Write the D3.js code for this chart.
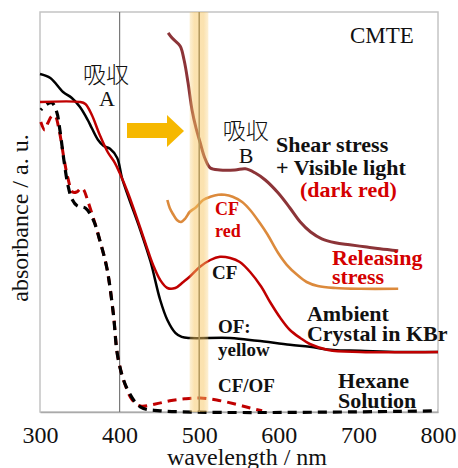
<!DOCTYPE html>
<html>
<head>
<meta charset="utf-8">
<script src="https://cdn.jsdelivr.net/npm/d3@7"></script>
<style>
  body { margin: 0; background: #fff; }
  svg { display: block; }
  svg text { font-family: 'Liberation Serif', serif; }
  svg text.cjk { font-family: 'Noto Sans CJK JP', sans-serif; }
</style>
</head>
<body>
<svg id="chart"></svg>
<script>
// spectra (wavelength in nm, absorbance in a.u. 0..1)
const xTicks = [300, 400, 500, 600, 700, 800];

const ambientNm  = [300, 313, 329, 340, 350, 360, 365, 373, 380, 388, 397, 403, 411, 426, 439, 451, 460, 470, 478, 488, 539, 573, 614, 639, 668, 702, 752, 800];
const ambientAbs = [0.845, 0.835, 0.80, 0.785, 0.763, 0.73, 0.71, 0.68, 0.665, 0.658, 0.635, 0.585, 0.538, 0.455, 0.375, 0.28, 0.23, 0.198, 0.188, 0.185, 0.185, 0.178, 0.168, 0.163, 0.155, 0.153, 0.15, 0.15];

const releaseNm  = [300, 350, 357, 365, 375, 385, 394, 400, 411, 426, 434, 442, 451, 460, 470, 480, 488, 501, 514, 526, 539, 551, 564, 578, 589, 602, 614, 627, 639, 662, 702, 800];
const releaseAbs = [0.775, 0.775, 0.77, 0.743, 0.693, 0.65, 0.623, 0.598, 0.545, 0.46, 0.413, 0.368, 0.33, 0.31, 0.31, 0.325, 0.338, 0.363, 0.38, 0.388, 0.385, 0.375, 0.35, 0.313, 0.275, 0.235, 0.205, 0.185, 0.17, 0.155, 0.15, 0.15];

const shearNm  = [461, 466, 476, 481, 486, 491, 496, 501, 507, 514, 526, 545, 558, 570, 583, 599, 614, 627, 640, 654, 671, 689, 708, 727, 750];
const shearAbs = [0.948, 0.935, 0.915, 0.88, 0.823, 0.755, 0.71, 0.675, 0.635, 0.61, 0.605, 0.605, 0.608, 0.598, 0.58, 0.548, 0.51, 0.475, 0.45, 0.433, 0.423, 0.418, 0.413, 0.408, 0.403];

const cfRedNm  = [460, 463, 467, 472, 477, 483, 488, 496, 505, 514, 524, 532, 542, 554, 564, 576, 586, 599, 610, 623, 635, 649, 671, 702, 750];
const cfRedAbs = [0.53, 0.51, 0.495, 0.48, 0.475, 0.485, 0.5, 0.512, 0.53, 0.538, 0.543, 0.543, 0.538, 0.525, 0.505, 0.473, 0.443, 0.398, 0.368, 0.343, 0.325, 0.315, 0.31, 0.308, 0.308];

const hexOfNm  = [301, 309, 315, 321, 325, 330, 335, 340, 347, 357, 367, 375, 384, 392, 398, 409, 426, 451, 800];
const hexOfAbs = [0.755, 0.77, 0.773, 0.75, 0.705, 0.63, 0.568, 0.533, 0.515, 0.51, 0.48, 0.43, 0.36, 0.248, 0.135, 0.06, 0.013, 0.003, 0.003];

const hexCfNm  = [301, 306, 310, 315, 319, 324, 330, 335, 341, 346, 352, 355, 360, 367, 375, 384, 392, 398, 407, 416, 426, 445, 463, 482, 501, 522, 545, 564, 579];
const hexCfAbs = [0.725, 0.705, 0.723, 0.74, 0.74, 0.705, 0.635, 0.585, 0.55, 0.55, 0.56, 0.555, 0.528, 0.485, 0.43, 0.36, 0.248, 0.135, 0.068, 0.03, 0.015, 0.02, 0.028, 0.033, 0.035, 0.03, 0.02, 0.01, 0.003];

const width = 458, height = 468;
const mLeft = 40, mRight = 438, mTop = 12, mBottom = 412;

const svg = d3.select('#chart')
  .attr('width', width)
  .attr('height', height);

const x = d3.scaleLinear().domain([300, 800]).range([mLeft, mRight]);
const y = d3.scaleLinear().domain([0, 1]).range([mBottom, mTop]);

// frame
svg.append('rect')
  .attr('x', mLeft).attr('y', mTop)
  .attr('width', mRight - mLeft).attr('height', mBottom - mTop)
  .attr('fill', 'none')
  .attr('stroke', '#c4c4c4')
  .attr('stroke-width', 1.5);

// x axis labels
const xAxis = d3.axisBottom(x).tickValues(xTicks).tickSize(0).tickPadding(14).tickFormat(d3.format('d'));
const gx = svg.append('g')
  .attr('transform', `translate(0,${mBottom})`)
  .call(xAxis)
  .attr('font-family', null);
gx.select('.domain').attr('stroke', '#aaa').attr('stroke-width', 1.5);
gx.selectAll('text')
  .style('font-size', '24px')
  .attr('fill', '#111');

svg.append('text')
  .attr('x', 247).attr('y', 465)
  .attr('text-anchor', 'middle')
  .style('font-size', '24px').attr('fill', '#111')
  .text('wavelength / nm');

svg.append('text')
  .attr('transform', 'translate(28,218) rotate(-90)')
  .attr('text-anchor', 'middle')
  .style('font-size', '24px').attr('fill', '#111')
  .text('absorbance / a. u.');

// vertical line at 400 nm
svg.append('line')
  .attr('x1', x(400)).attr('x2', x(400))
  .attr('y1', mTop).attr('y2', mBottom)
  .attr('stroke', '#7a7a7a').attr('stroke-width', 1.2);

const line = d3.line()
  .x(d => x(d[0]))
  .y(d => y(d[1]))
  .curve(d3.curveCatmullRom.alpha(0.5));

const zip = (a, b) => a.map((v, i) => [v, b[i]]);

// hexane solution (dashed)
svg.append('path')
  .attr('d', line(zip(hexCfNm, hexCfAbs)))
  .attr('fill', 'none').attr('stroke', '#c00000')
  .attr('stroke-width', 3).attr('stroke-dasharray', '9,6');

svg.append('path')
  .attr('d', line(zip(hexOfNm, hexOfAbs)))
  .attr('fill', 'none').attr('stroke', '#000')
  .attr('stroke-width', 3.2).attr('stroke-dasharray', '9,6')
  .attr('stroke-dashoffset', 7);

// ambient crystal
svg.append('path')
  .attr('d', line(zip(ambientNm, ambientAbs)))
  .attr('fill', 'none').attr('stroke', '#000').attr('stroke-width', 2.5);

svg.append('path')
  .attr('d', line(zip(releaseNm, releaseAbs)))
  .attr('fill', 'none').attr('stroke', '#c00000').attr('stroke-width', 2.5);

// releasing stress (orange)
svg.append('path')
  .attr('d', line(zip(cfRedNm, cfRedAbs)))
  .attr('fill', 'none').attr('stroke', '#dc8a3c').attr('stroke-width', 2.6);

// shear stress + visible light
svg.append('path')
  .attr('d', line(zip(shearNm, shearAbs)))
  .attr('fill', 'none').attr('stroke', '#8c3438').attr('stroke-width', 3);

// 500 nm line + highlight band
svg.append('line')
  .attr('x1', x(500)).attr('x2', x(500))
  .attr('y1', mTop).attr('y2', mBottom)
  .attr('stroke', '#6e6a5a').attr('stroke-width', 1.5);

const grad = svg.append('defs').append('linearGradient')
  .attr('id', 'band').attr('x1', '0%').attr('x2', '100%');
grad.append('stop').attr('offset', '0%').attr('stop-color', '#f8cc70').attr('stop-opacity', 0.3);
grad.append('stop').attr('offset', '25%').attr('stop-color', '#f7c560').attr('stop-opacity', 0.5);
grad.append('stop').attr('offset', '75%').attr('stop-color', '#f7c560').attr('stop-opacity', 0.5);
grad.append('stop').attr('offset', '100%').attr('stop-color', '#f8cc70').attr('stop-opacity', 0.3);

svg.append('rect')
  .attr('x', x(488)).attr('y', mTop)
  .attr('width', x(511.5) - x(488)).attr('height', mBottom - mTop)
  .attr('fill', 'url(#band)');

// yellow arrow
svg.append('path')
  .attr('d', 'M127,123 L167,123 L167,115 L184,131 L167,147 L167,138 L127,138 Z')
  .attr('fill', '#f6b800');

// annotations (positions in data units)
const labels = [
  { t: 'CMTE', nm: 689.5, a: 0.9225, size: 23, w: 'normal', c: '#111', anchor: 'start' },
  { t: 'A', nm: 384, a: 0.765, size: 22, w: 'normal', c: '#111', anchor: 'middle' },
  { t: 'B', nm: 559, a: 0.623, size: 22, w: 'normal', c: '#111', anchor: 'middle' },
  { t: 'Shear stress', nm: 596.5, a: 0.65, size: 22, w: 'bold', c: '#111', anchor: 'start' },
  { t: '+ Visible light', nm: 596.5, a: 0.5925, size: 22, w: 'bold', c: '#111', anchor: 'start' },
  { t: '(dark red)', nm: 626.6, a: 0.5375, size: 22, w: 'bold', c: '#d40000', anchor: 'start' },
  { t: 'CF', nm: 520, a: 0.4925, size: 18, w: 'bold', c: '#d40000', anchor: 'start' },
  { t: 'red', nm: 520, a: 0.4375, size: 18, w: 'bold', c: '#d40000', anchor: 'start' },
  { t: 'Releasing', nm: 666.8, a: 0.368, size: 22, w: 'bold', c: '#d40000', anchor: 'start' },
  { t: 'stress', nm: 666.8, a: 0.32, size: 22, w: 'bold', c: '#d40000', anchor: 'start' },
  { t: 'CF', nm: 516, a: 0.3325, size: 19, w: 'bold', c: '#111', anchor: 'start' },
  { t: 'Ambient', nm: 635.4, a: 0.2275, size: 22, w: 'bold', c: '#111', anchor: 'start' },
  { t: 'Crystal in KBr', nm: 635.4, a: 0.1775, size: 22, w: 'bold', c: '#111', anchor: 'start' },
  { t: 'OF:', nm: 523.6, a: 0.1975, size: 19, w: 'bold', c: '#111', anchor: 'start' },
  { t: 'yellow', nm: 523.6, a: 0.14, size: 19, w: 'bold', c: '#111', anchor: 'start' },
  { t: 'CF/OF', nm: 523.6, a: 0.05, size: 19, w: 'bold', c: '#111', anchor: 'start' },
  { t: 'Hexane', nm: 674.4, a: 0.06, size: 22, w: 'bold', c: '#111', anchor: 'start' },
  { t: 'Solution', nm: 674.4, a: 0.01, size: 22, w: 'bold', c: '#111', anchor: 'start' }
];

svg.append('g').selectAll('text')
  .data(labels)
  .enter()
  .append('text')
  .attr('x', d => x(d.nm))
  .attr('y', d => y(d.a))
  .attr('text-anchor', d => d.anchor)
  .style('font-size', d => d.size + 'px')
  .style('font-weight', d => d.w)
  .attr('fill', d => d.c)
  .text(d => d.t);

// 吸収 labels
const kanji = [ { nm: 383, a: 0.822 }, { nm: 558.5, a: 0.683 } ];
svg.append('g').selectAll('text')
  .data(kanji)
  .enter()
  .append('text')
  .attr('class', 'cjk')
  .attr('x', d => x(d.nm))
  .attr('y', d => y(d.a))
  .attr('text-anchor', 'middle')
  .style('font-size', '23px')
  .style('font-weight', 300)
  .attr('fill', '#111')
  .text('吸収');
</script>
</body>
</html>
